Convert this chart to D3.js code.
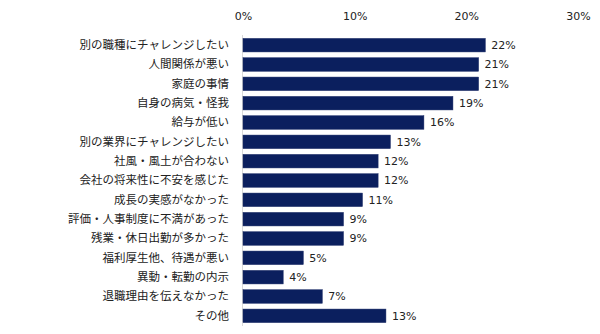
<!DOCTYPE html>
<html><head><meta charset="utf-8">
<script src="https://cdn.jsdelivr.net/npm/d3@7"></script>
<style>body{margin:0;background:#fff}</style>
</head><body><svg id="c" width="600" height="334"></svg>
<script>
const categories = ["別の職種にチャレンジしたい","人間関係が悪い","家庭の事情","自身の病気・怪我","給与が低い","別の業界にチャレンジしたい","社風・風土が合わない","会社の将来性に不安を感じた","成長の実感がなかった","評価・人事制度に不満があった","残業・休日出勤が多かった","福利厚生他、待遇が悪い","異動・転勤の内示","退職理由を伝えなかった","その他"];
const values = [21.7,21.1,21.1,18.8,16.2,13.2,12.1,12.1,10.7,9.0,9.0,5.4,3.6,7.1,12.8];
const tickValues = [0,10,20,30];

const svg = d3.select("#c");
const x = d3.scaleLinear().domain([0,30]).range([243,578]);
const y = d3.scaleBand().domain(categories).range([35.5,325.5]).paddingInner(0.3).paddingOuter(0.15);

// tick labels
svg.append("g").attr("transform","translate(0,20)")
  .call(d3.axisTop(x).tickValues(tickValues).tickFormat(d=>d+"%").tickSize(0).tickPadding(0))
  .call(g=>g.select(".domain").remove())
  .call(g=>g.selectAll("text").attr("font-family","DejaVu Sans, Verdana, sans-serif").attr("font-size","11px").attr("fill","#222"));

// axis line
svg.append("line").attr("x1",x(0)-0.5).attr("x2",x(0)-0.5).attr("y1",35).attr("y2",326).attr("stroke","#d9d9d9").attr("stroke-width",1);

// category labels
svg.append("g").attr("transform",`translate(${x(0)-14},0)`)
  .call(d3.axisLeft(y).tickSize(0).tickPadding(0))
  .call(g=>g.select(".domain").remove())
  .call(g=>g.selectAll("text").attr("font-family","Noto Sans CJK JP, sans-serif").attr("font-size","11.5px").attr("fill","#222"));

// bars
svg.append("g").selectAll("rect").data(values).join("rect")
  .attr("x",x(0)).attr("y",(d,i)=>y(categories[i]))
  .attr("width",d=>x(d)-x(0)).attr("height",y.bandwidth())
  .attr("fill","#0b1f5e").attr("stroke","#1c2d66").attr("stroke-width",0.5);

// value labels
svg.append("g").selectAll("text").data(values).join("text")
  .attr("x",d=>x(d)+6).attr("y",(d,i)=>y(categories[i])+y.bandwidth()/2)
  .attr("dy","0.35em")
  .attr("font-family","DejaVu Sans, Verdana, sans-serif").attr("font-size","11px").attr("fill","#222")
  .text(d=>Math.round(d)+"%");
</script></body></html>
